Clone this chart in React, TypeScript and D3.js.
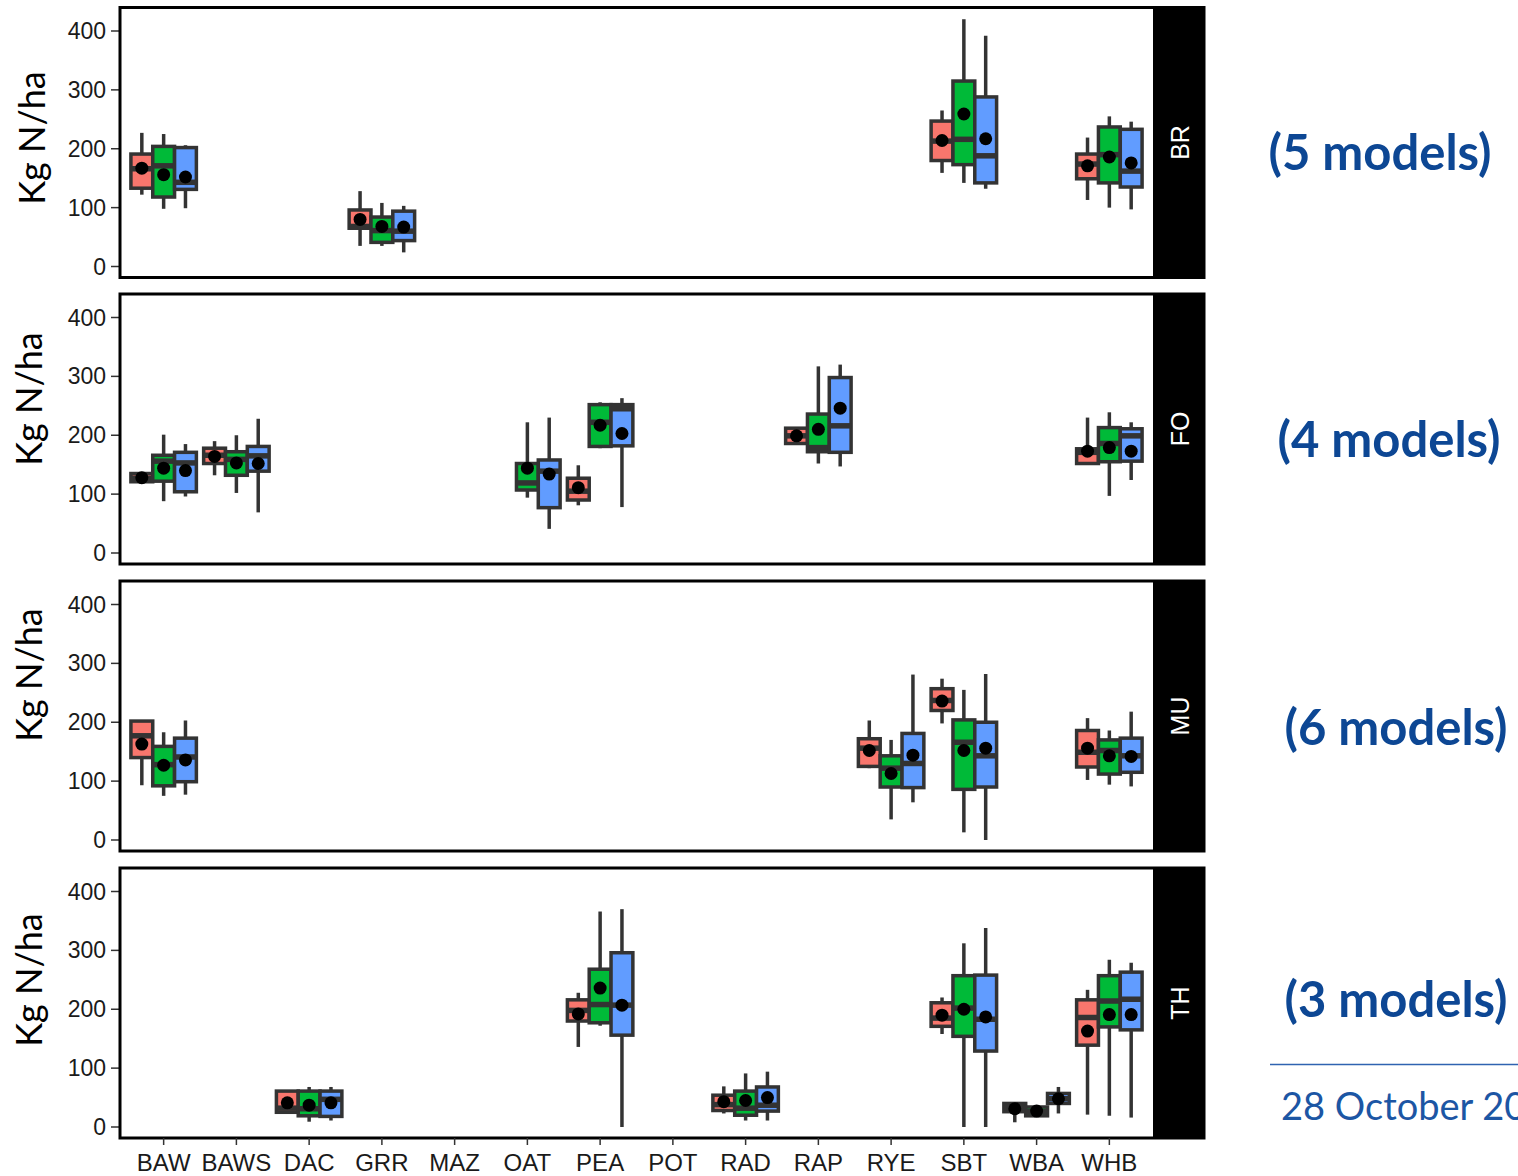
import React from 'react';
import * as d3 from 'd3';

// Crop codes along the x axis
const crops = ['BAW', 'BAWS', 'DAC', 'GRR', 'MAZ', 'OAT', 'PEA', 'POT', 'RAD', 'RAP', 'RYE', 'SBT', 'WBA', 'WHB'];
// Fill colours of the three dodged series
const seriesColors = ['#F8766D', '#00BA38', '#619CFF'];
const yTicks = [0, 100, 200, 300, 400];
const sites = ['BR', 'FO', 'MU', 'TH'];
const modelNotes = ['(5 models)', '(4 models)', '(6 models)', '(3 models)'];
const dateNote = '28 October 2020';

// [crop, series, whisker low, q1, median, q3, whisker high, mean] in kg N/ha
type Row = [string, number, number, number, number, number, number, number];

const statsBR: Row[] = [
  ['BAW', 0, 122, 133, 166, 191, 227, 167],
  ['BAW', 1, 98, 118, 171, 204, 225, 156],
  ['BAW', 2, 99, 131, 143, 202, 206, 152],
  ['GRR', 0, 35, 65, 68, 96, 128, 80],
  ['GRR', 1, 35, 41, 61, 84, 108, 68],
  ['GRR', 2, 24, 44, 60, 94, 103, 67],
  ['SBT', 0, 159, 180, 213, 247, 265, 214],
  ['SBT', 1, 142, 173, 216, 315, 420, 259],
  ['SBT', 2, 132, 142, 188, 288, 392, 217],
  ['WHB', 0, 113, 149, 174, 191, 219, 171],
  ['WHB', 1, 100, 142, 190, 237, 255, 186],
  ['WHB', 2, 97, 135, 162, 233, 246, 176],
];

const statsFO: Row[] = [
  ['BAW', 0, 118, 121, 127, 135, 137, 128],
  ['BAW', 1, 88, 122, 156, 166, 201, 144],
  ['BAW', 2, 96, 104, 153, 171, 185, 140],
  ['BAWS', 0, 132, 152, 166, 178, 190, 164],
  ['BAWS', 1, 102, 132, 159, 172, 200, 153],
  ['BAWS', 2, 69, 139, 165, 181, 228, 152],
  ['OAT', 1, 94, 107, 119, 152, 222, 144],
  ['OAT', 2, 41, 77, 139, 158, 230, 134],
  ['PEA', 0, 81, 90, 105, 127, 149, 111],
  ['PEA', 1, 178, 181, 222, 252, 256, 217],
  ['PEA', 2, 78, 182, 245, 252, 263, 203],
  ['RAP', 0, 185, 186, 199, 212, 212, 199],
  ['RAP', 1, 152, 172, 179, 236, 317, 210],
  ['RAP', 2, 147, 171, 216, 298, 320, 246],
  ['WHB', 0, 152, 152, 171, 177, 230, 173],
  ['WHB', 1, 97, 155, 186, 213, 239, 179],
  ['WHB', 2, 124, 156, 199, 211, 222, 173],
];

const statsMU: Row[] = [
  ['BAW', 0, 93, 140, 177, 202, 202, 163],
  ['BAW', 1, 75, 92, 128, 159, 183, 127],
  ['BAW', 2, 77, 99, 141, 173, 203, 136],
  ['RYE', 0, 122, 125, 156, 172, 203, 152],
  ['RYE', 1, 35, 90, 122, 143, 170, 113],
  ['RYE', 2, 64, 89, 130, 181, 281, 144],
  ['SBT', 0, 198, 220, 237, 257, 274, 236],
  ['SBT', 1, 13, 86, 166, 204, 255, 152],
  ['SBT', 2, 0, 90, 143, 200, 282, 156],
  ['WHB', 0, 102, 124, 149, 186, 207, 156],
  ['WHB', 1, 94, 112, 152, 170, 186, 143],
  ['WHB', 2, 91, 115, 143, 173, 218, 142],
];

const statsTH: Row[] = [
  ['DAC', 0, 25, 25, 32, 61, 61, 41],
  ['DAC', 1, 9, 19, 31, 61, 68, 37],
  ['DAC', 2, 11, 18, 47, 61, 68, 41],
  ['PEA', 0, 136, 180, 198, 216, 228, 192],
  ['PEA', 1, 172, 177, 208, 268, 366, 236],
  ['PEA', 2, 0, 156, 207, 296, 370, 207],
  ['RAD', 0, 23, 28, 38, 54, 69, 43],
  ['RAD', 1, 11, 20, 32, 61, 91, 45],
  ['RAD', 2, 11, 27, 37, 68, 94, 50],
  ['SBT', 0, 158, 171, 185, 211, 220, 190],
  ['SBT', 1, 0, 154, 202, 257, 312, 200],
  ['SBT', 2, 0, 129, 183, 258, 338, 187],
  ['WBA', 0, 8, 26, 33, 40, 40, 31],
  ['WBA', 1, 19, 19, 26, 34, 34, 27],
  ['WBA', 2, 23, 40, 48, 57, 68, 48],
  ['WHB', 0, 21, 139, 186, 216, 233, 163],
  ['WHB', 1, 19, 170, 214, 257, 284, 191],
  ['WHB', 2, 16, 165, 217, 263, 279, 191],
];

const panelStats = [statsBR, statsFO, statsMU, statsTH];

// Layout
const W = 1518;
const H = 1176;
const plotLeft = 120;
const plotRight = 1153;
const stripRight = 1204;
const panelTops = [7.5, 294, 581, 868];
const panelHeight = 270;
const titleCenters = [[31, 138], [28, 399], [28, 675], [28, 980]];
const noteCenters = [[1380, 153], [1389, 440], [1396, 728], [1396, 1000]];

const ink = '#333333';
const noteBlue = '#0D4794';

// Discrete x with 0.6-unit padding on both ends
const xUnit = d3
  .scaleLinear()
  .domain([0.4, crops.length + 0.6])
  .range([plotLeft, plotRight]);
const xCenter = (crop: string) => xUnit(crops.indexOf(crop) + 1);
const unitPx = xUnit(2) - xUnit(1);
const boxW = unitPx * 0.3;

function Panel({ index }: { index: number }) {
  const top = panelTops[index];
  const bottom = top + panelHeight;
  const y = d3.scaleLinear().domain([0, 400]).range([bottom - 11, top + 23.5]);
  const rows = panelStats[index];
  const [tx, ty] = titleCenters[index];
  const midY = (top + bottom) / 2;
  const isLast = index === panelTops.length - 1;

  return (
    <g>
      {/* strip */}
      <rect x={plotRight} y={top} width={stripRight - plotRight} height={panelHeight} fill="#000" />
      <text
        transform={`translate(${(plotRight + stripRight) / 2 + 1},${midY}) rotate(-90)`}
        textAnchor="middle"
        dominantBaseline="central"
        fill="#fff"
        fontFamily="'Liberation Sans', Arial, sans-serif"
        fontSize={25}
      >
        {sites[index]}
      </text>

      {/* y axis */}
      {yTicks.map((t) => (
        <g key={t}>
          <line x1={plotLeft - 9} x2={plotLeft} y1={y(t)} y2={y(t)} stroke={ink} strokeWidth={1.5} />
          <text
            x={plotLeft - 14}
            y={y(t)}
            textAnchor="end"
            dominantBaseline="central"
            fontFamily="'Liberation Sans', Arial, sans-serif"
            fontSize={23}
            fill="#1a1a1a"
          >
            {t}
          </text>
        </g>
      ))}
      <text
        transform={`translate(${tx},${ty}) rotate(-90)`}
        textAnchor="middle"
        dominantBaseline="central"
        fontFamily="Lato, 'Open Sans', sans-serif"
        fontSize={36}
        fill="#000"
      >
        Kg N/ha
      </text>

      {/* boxes */}
      {rows.map(([crop, s, lo, q1, med, q3, hi, mean], i) => {
        const cx = xCenter(crop) + (s - 1) * boxW;
        return (
          <g key={i}>
            <line x1={cx} x2={cx} y1={y(lo)} y2={y(hi)} stroke={ink} strokeWidth={3.5} />
            <rect
              x={cx - boxW / 2}
              y={y(q3)}
              width={boxW}
              height={Math.max(y(q1) - y(q3), 0)}
              fill={seriesColors[s]}
              stroke={ink}
              strokeWidth={3.5}
            />
            <line x1={cx - boxW / 2} x2={cx + boxW / 2} y1={y(med)} y2={y(med)} stroke={ink} strokeWidth={5.5} />
            <circle cx={cx} cy={y(mean)} r={6.5} fill="#000" />
          </g>
        );
      })}

      {/* panel frame */}
      <rect
        x={plotLeft}
        y={top}
        width={stripRight - plotLeft}
        height={panelHeight}
        fill="none"
        stroke="#000"
        strokeWidth={3}
      />

      {/* x axis ticks and labels only under the last panel */}
      {isLast &&
        crops.map((c) => (
          <g key={c}>
            <line x1={xCenter(c)} x2={xCenter(c)} y1={bottom} y2={bottom + 7} stroke={ink} strokeWidth={1.5} />
            <text
              x={xCenter(c)}
              y={bottom + 33}
              textAnchor="middle"
              fontFamily="'Liberation Sans', Arial, sans-serif"
              fontSize={24}
              fill="#1a1a1a"
            >
              {c}
            </text>
          </g>
        ))}

      {/* model count note */}
      <text
        x={noteCenters[index][0]}
        y={noteCenters[index][1] + 17}
        textAnchor="middle"
        fontFamily="Lato, 'Open Sans', sans-serif"
        fontWeight={700}
        fontSize={49}
        fill={noteBlue}
      >
        {modelNotes[index]}
      </text>
    </g>
  );
}

export default function App() {
  return (
    <svg
      width={W}
      height={H}
      viewBox={`0 0 ${W} ${H}`}
      style={{ position: 'absolute', left: 0, top: 0, background: '#fff' }}
    >
      <rect width={W} height={H} fill="#fff" />
      {sites.map((s, i) => (
        <Panel key={s} index={i} />
      ))}
      <line x1={1270} x2={W} y1={1064.5} y2={1064.5} stroke="#2F63B1" strokeWidth={1.5} />
      <text x={1281} y={1120} fontFamily="Lato, 'Open Sans', sans-serif" fontSize={38} fill="#1C56A4">
        {dateNote}
      </text>
    </svg>
  );
}
